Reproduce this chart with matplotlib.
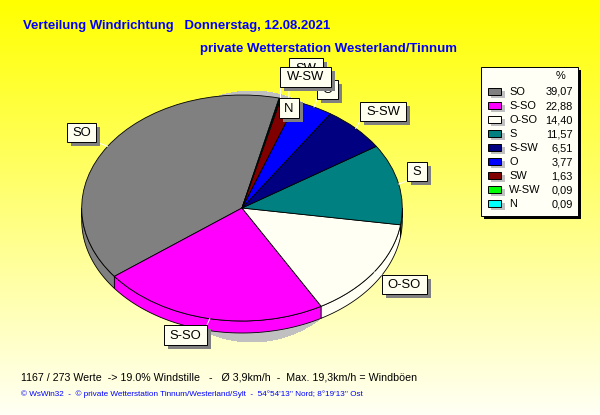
import numpy as np
import matplotlib
matplotlib.use("Agg")
import matplotlib.pyplot as plt
from matplotlib.patches import Ellipse, Rectangle

plt.rcParams['font.family'] = ['Liberation Sans', 'DejaVu Sans']

# Data
directions = ["SO", "S-SO", "O-SO", "S", "S-SW", "O", "SW", "W-SW", "N"]
percent = [39.07, 22.88, 14.40, 11.57, 6.51, 3.77, 1.63, 0.09, 0.09]
percent_labels = ["39,07", "22,88", "14,40", "11,57", "6,51", "3,77", "1,63", "0,09", "0,09"]
colors = ["#808080", "#FF00FF", "#FFFFF4", "#008080", "#000080", "#0000FF", "#800000", "#00FF00", "#00FFFF"]

title1 = "Verteilung Windrichtung   Donnerstag, 12.08.2021"
title2 = "private Wetterstation Westerland/Tinnum"
info = "1167 / 273 Werte  -> 19.0% Windstille   -   Ø 3,9km/h  -  Max. 19,3km/h = Windböen"
credit = "© WsWin32  -  © private Wetterstation Tinnum/Westerland/Sylt  -  54°54'13'' Nord; 8°19'13'' Ost"

# Layout in pixels (x0, y0, x1, y1)
W, H = 600, 415
cx, cy, rx, ry, depth = 242, 208, 160.3, 113, 12
label_boxes = [(67, 123, 96, 142), (164, 325, 207, 345), (382, 275, 427, 294), (407, 162, 427, 181),
               (360, 102, 406, 121), (317, 80, 338, 99), (289, 58, 323, 80), (280, 67, 331, 87), (279, 98, 299, 118)]

fig = plt.figure(figsize=(W / 100, H / 100), dpi=100)

# Background with shadow
bg = fig.add_axes([0, 0, 1, 1], zorder=0)
gradient = np.linspace(0, 245, 256)[:, None]
bg_img = np.dstack([np.full_like(gradient, 255), np.full_like(gradient, 255), gradient]).astype(np.uint8)
bg.imshow(bg_img, extent=(0, W, H, 0), aspect='auto', interpolation='bilinear')
bg.add_patch(Ellipse((252, 216.5), 236, 251, facecolor="#C0C0C0", edgecolor='none', antialiased=False))
bg.set_xlim(0, W)
bg.set_ylim(H, 0)
bg.axis('off')

# Pie, stretched to an ellipse by the axes shape
ax = fig.add_axes([(cx - rx) / W, 1 - (cy + ry) / H, 2 * rx / W, 2 * ry / H], zorder=1)
wedges, _ = ax.pie(percent, colors=colors, startangle=76.6, counterclock=True, radius=1,
                   wedgeprops=dict(edgecolor='black', linewidth=0.6, clip_on=False))
ax.set_aspect('auto')
ax.set_xlim(-1, 1)
ax.set_ylim(-1, 1)
ax.axis('off')

# Side wall of the pie
drop = depth / ry
for wedge, col in zip(wedges, colors):
    t1, t2 = wedge.theta1, wedge.theta2
    for start, stop in [(t1, t2), (t1 - 360, t2 - 360)]:
        lo, hi = max(start, -180), min(stop, 0)
        if lo >= hi:
            continue
        t = np.radians(np.linspace(lo, hi, 60))
        x = np.cos(t)
        y = np.sin(t)
        ax.fill(np.r_[x, x[::-1]], np.r_[y, y[::-1] - drop], facecolor=col, edgecolor='black',
                linewidth=0.6, clip_on=False, zorder=0.5)

# Overlay for labels, legend and text
top = fig.add_axes([0, 0, 1, 1], zorder=2)
top.set_xlim(0, W)
top.set_ylim(H, 0)
top.axis('off')
top.patch.set_alpha(0)

for i, (name, wedge, box) in enumerate(zip(directions, wedges, label_boxes)):
    x0, y0, x1, y1 = box
    mid = np.radians((wedge.theta1 + wedge.theta2) / 2)
    ex, ey = cx + rx * np.cos(mid), cy - ry * np.sin(mid)
    top.plot([ex, np.clip(ex, x0, x1)], [ey, np.clip(ey, y0, y1)], color='white', lw=0.7, zorder=10 + i * 3)
    top.add_patch(Rectangle((x0 + 4, y0 + 4), x1 - x0, y1 - y0, facecolor="#808080", edgecolor='none',
                            zorder=11 + i * 3))
    top.add_patch(Rectangle((x0, y0), x1 - x0, y1 - y0, facecolor="#FFFFF0", edgecolor='black', lw=0.7,
                            zorder=12 + i * 3))
    top.text((x0 + x1) / 2, (y0 + y1) / 2 + 0.5, name, fontsize=9.4, ha='center', va='center', zorder=12.5 + i * 3)

# Legend
top.add_patch(Rectangle((484, 70), 97, 149, facecolor='black', edgecolor='none', zorder=50))
top.add_patch(Rectangle((481, 67), 97, 149, facecolor="#FFFFF5", edgecolor='black', lw=0.7, zorder=51))
top.text(560, 76, "%", fontsize=7.9, ha='center', va='center', zorder=52)
for i, (name, val, col) in enumerate(zip(directions, percent_labels, colors)):
    y = 92 + i * 14
    top.add_patch(Rectangle((491, y - 1), 14, 7, facecolor="#C0C0C0", edgecolor='none', zorder=52))
    top.add_patch(Rectangle((488, y - 4), 13, 7, facecolor=col, edgecolor='black', lw=0.7, zorder=53))
    top.text(509, y, name, fontsize=7.9, ha='left', va='center', zorder=53)
    top.text(573, y, val, fontsize=7.9, ha='right', va='center', zorder=53)

# Titles and footer
top.text(23, 25.5, title1, fontsize=9.45, fontweight='bold', color='#0000FF', ha='left', va='center')
top.text(200, 49, title2, fontsize=9.55, fontweight='bold', color='#0000FF', ha='left', va='center')
top.text(21, 377, info, fontsize=7.7, color='black', ha='left', va='center')
top.text(21, 394, credit, fontsize=5.9, color='#0000FF', ha='left', va='center')

fig.savefig("out.png", dpi=100)
